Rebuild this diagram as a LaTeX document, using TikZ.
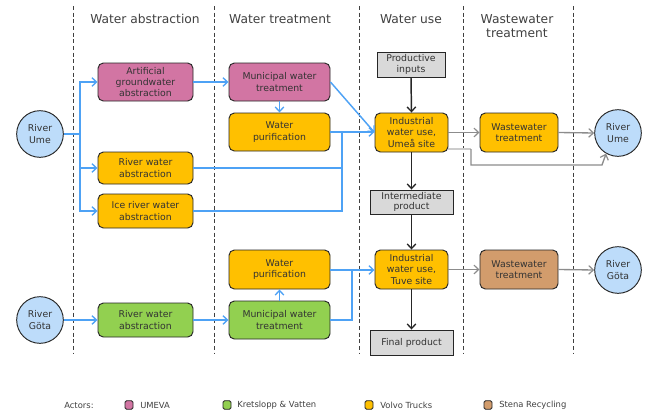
\documentclass[tikz,border=0pt]{standalone}
\usepackage{fontspec}
\setmainfont{DejaVu Sans}
\usetikzlibrary{arrows.meta,positioning,calc}
\definecolor{umeva}{HTML}{D275A3}
\definecolor{kretslopp}{HTML}{92D050}
\definecolor{volvo}{HTML}{FFC000}
\definecolor{stena}{HTML}{D29C6C}
\definecolor{river}{HTML}{BDDCFA}
\definecolor{flowblue}{HTML}{4EA2F5}
\definecolor{boxgray}{HTML}{D9D9D9}
\definecolor{txt}{HTML}{333333}
\tikzset{
  actbox/.style={draw=black!85, line width=0.7pt, rounded corners=4pt, align=center,
    font=\fontsize{7}{8.6}\selectfont, text=txt, inner sep=0pt},
  prodbox/.style={draw=black!85, line width=0.7pt, fill=boxgray, align=center,
    font=\fontsize{7}{8}\selectfont, text=txt, inner sep=0pt},
  rivernode/.style={circle, draw=black!85, line width=0.7pt, fill=river, align=center,
    font=\fontsize{7}{8.6}\selectfont, text=txt, minimum size=35pt, inner sep=0pt},
  water/.style={draw=flowblue, line width=1.1pt, -{Straight Barb[length=3.5pt,width=6.5pt,line width=1pt]}},
  waterline/.style={draw=flowblue, line width=1.1pt},
  matflow/.style={draw=black!85, line width=1.1pt, -{Straight Barb[length=3.5pt,width=6.5pt,line width=1pt]}},
  wasteflow/.style={draw=black!45, line width=1pt, -{Straight Barb[length=3.5pt,width=6.5pt,line width=0.9pt]}},
  lane/.style={draw=black!75, dash pattern=on 3pt off 2pt, line width=0.6pt},
  header/.style={font=\fontsize{9.2}{11}\selectfont, text=black!75, align=center},
  legendtxt/.style={font=\fontsize{6.3}{7.5}\selectfont, text=black!75, anchor=west, inner sep=0pt},
  swatch/.style={draw=black!85, line width=0.6pt, rounded corners=1.2pt, minimum width=6pt, minimum height=6.5pt, inner sep=0pt}
}
% box helper: name, x1, y1, x2, y2, fill, text
\newcommand{\actbox}[7]{\node[actbox, fill=#6, minimum width={(#4-#2)*0.75pt}, minimum height={(#5-#3)*0.75pt}] (#1) at ({(#2+#4)/2},{(#3+#5)/2}) {#7};}
\newcommand{\prodbox}[6]{\node[prodbox, minimum width={(#4-#2)*0.75pt}, minimum height={(#5-#3)*0.75pt}] (#1) at ({(#2+#4)/2},{(#3+#5)/2}) {#6};}
\begin{document}
\begin{tikzpicture}[x=0.75pt, y=-0.75pt]
\useasboundingbox (0,0) rectangle (647,411);

% swim lane separators
\foreach \lx in {73,214,359,463,573} \draw[lane] (\lx,6) -- (\lx,354);

% lane headers
\node[header] (h1) at (145,19) {Water abstraction};
\node[header] (h2) at (280,19) {Water treatment};
\node[header] (h3) at (411,19) {Water use};
\node[header] (h4) at (517,26) {Wastewater\\treatment};

% Umeå chain
\node[rivernode] (umeL) at (40,134) {River\\Ume};
\actbox{agw}{98}{63}{193}{101}{umeva}{Artificial\\groundwater\\abstraction}
\actbox{mwtU}{229}{63}{330}{101}{umeva}{Municipal water\\treatment}
\actbox{wpU}{229}{113}{330}{151}{volvo}{Water\\purification}
\actbox{rwaU}{98}{152}{193}{184}{volvo}{River water\\abstraction}
\actbox{ice}{98}{194}{193}{228}{volvo}{Ice river water\\abstraction}
\prodbox{pin}{377}{52}{445}{77}{Productive\\inputs}
\actbox{indU}{375}{113}{448}{152}{volvo}{Industrial\\water use,\\Umeå site}
\actbox{wwtU}{480}{113}{558}{152}{volvo}{Wastewater\\treatment}
\node[rivernode] (umeR) at (618,133) {River\\Ume};
\prodbox{inter}{370}{190}{453}{214}{Intermediate\\product}

% Göta chain
\node[rivernode] (gotaL) at (40,320) {River\\Göta};
\actbox{rwaG}{98}{303}{193}{337}{kretslopp}{River water\\abstraction}
\actbox{mwtG}{229}{301}{330}{339}{kretslopp}{Municipal water\\treatment}
\actbox{wpG}{229}{250}{330}{289}{volvo}{Water\\purification}
\actbox{indT}{375}{250}{448}{289}{volvo}{Industrial\\water use,\\Tuve site}
\actbox{wwtG}{480}{250}{558}{289}{stena}{Wastewater\\treatment}
\node[rivernode] (gotaR) at (618,270) {River\\Göta};
\prodbox{final}{370}{330}{453}{355}{Final product}

% water supply, Umeå
\coordinate (trunk) at (80,134);
\draw[waterline] (umeL.east) -- (trunk);
\draw[water] (trunk) |- (agw.west);
\draw[water] (trunk) |- (rwaU.west);
\draw[water] (trunk) |- (ice.west);
\draw[water] (agw.east) -- (agw.east -| mwtU.west);
\draw[water] (mwtU.south) -- (wpU.north);
\draw[water] (mwtU.east) -- (indU.west);
\coordinate (joinU) at (342,132);
\draw[water] (wpU.east |- joinU) -- (indU.west |- joinU);
\draw[waterline] (rwaU.east) -- (rwaU.east -| joinU) -- (joinU);
\draw[waterline] (ice.east) -- (ice.east -| joinU) -- (joinU);

% water supply, Göta
\draw[water] (gotaL.east) -- (rwaG.west);
\draw[water] (rwaG.east) -- (rwaG.east -| mwtG.west);
\draw[water] (mwtG.north) -- (wpG.south);
\coordinate (joinG) at (352,270);
\draw[water] (wpG.east |- joinG) -- (indT.west |- joinG);
\draw[waterline] (mwtG.east) -- (mwtG.east -| joinG) -- (joinG);

% material flow
\draw[matflow] (pin.south) -- (indU.north);
\draw[matflow] (indU.south) -- (inter.north);
\draw[matflow] (inter.south) -- (indT.north);
\draw[matflow] (indT.south) -- (final.north);

% wastewater
\draw[wasteflow] (indU.east) -- (wwtU.west);
\draw[wasteflow] (wwtU.east) -- (umeR.west);
\coordinate (bypass) at (471,149);
\draw[draw=black!20, line width=1pt] ($(indU.east)+(0,16.5)$) -- (bypass);
\draw[wasteflow] (bypass) -- (471,165) -- (602,165) -- (umeR.-120);
\draw[wasteflow] (indT.east) -- (wwtG.west);
\draw[wasteflow] (wwtG.east) -- (gotaR.west);

% legend
\node[legendtxt] (act) at (64,405) {Actors:};
\node[swatch, fill=umeva] (sw1) at (129,405) {};
\node[legendtxt] (l1) at (140,405) {UMEVA};
\node[swatch, fill=kretslopp] (sw2) at (227,405) {};
\node[legendtxt] (l2) at (237,405) {Kretslopp \& Vatten};
\node[swatch, fill=volvo] (sw3) at (369,405) {};
\node[legendtxt] (l3) at (380,405) {Volvo Trucks};
\node[swatch, fill=stena] (sw4) at (488,405) {};
\node[legendtxt] (l4) at (499,405) {Stena Recycling};
\end{tikzpicture}
\end{document}
